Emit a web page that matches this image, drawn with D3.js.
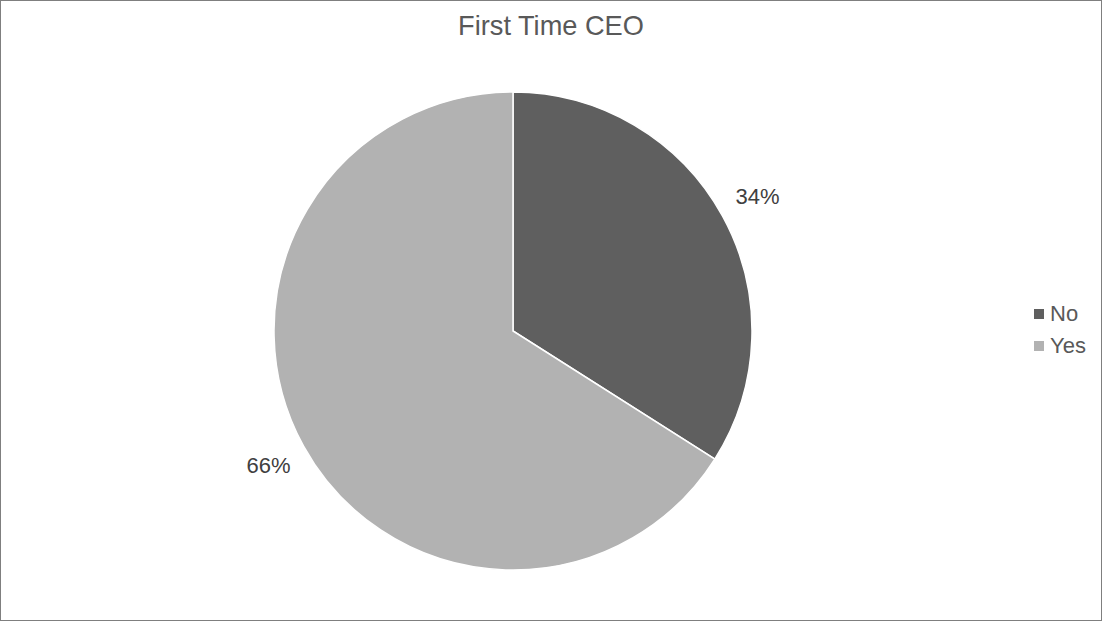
<!DOCTYPE html>
<meta charset="utf-8">
<title>First Time CEO</title>
<style>
    body { margin: 0; background: #fff; }
    text { font-family: "Liberation Sans", Arial, sans-serif; }
</style>

<body>
    <script src="https://d3js.org/d3.v7.min.js" charset="utf-8"></script>
    <script>
        // data
        var categories = ["No", "Yes"];
        var shares = [34, 66];
        var sliceColors = ["#5f5f5f", "#b2b2b2"];

        var width = 1102,
            height = 621;

        var svg = d3.select("body").append("svg")
            .attr("width", width)
            .attr("height", height);

        svg.append("rect")
            .attr("x", 0.5).attr("y", 0.5)
            .attr("width", width - 1).attr("height", height - 1)
            .style("fill", "#fff")
            .style("stroke", "#7f7f7f");

        svg.append("text")
            .attr("x", 551)
            .attr("y", 35)
            .attr("text-anchor", "middle")
            .style("font-size", "27.2px")
            .style("fill", "#595959")
            .text("First Time CEO");

        var cx = 513, cy = 331, r = 239;

        var color = d3.scaleOrdinal().domain(categories).range(sliceColors);

        var pie = d3.pie().sort(null).value(function (d) { return d.value; });
        var arcs = pie(categories.map(function (c, i) { return { key: c, value: shares[i] }; }));

        var arc = d3.arc().innerRadius(0).outerRadius(r);
        var labelArc = d3.arc().innerRadius(r + 40).outerRadius(r + 40);

        var g = svg.append("g")
            .attr("transform", "translate(" + cx + "," + cy + ")");

        g.selectAll("path")
            .data(arcs)
            .enter().append("path")
            .attr("d", arc)
            .style("fill", function (d) { return color(d.data.key); })
            .style("stroke", "#fff")
            .style("stroke-width", 1.5);

        var total = d3.sum(shares);
        g.selectAll("text.lbl")
            .data(arcs)
            .enter().append("text")
            .attr("class", "lbl")
            .attr("transform", function (d) { return "translate(" + labelArc.centroid(d) + ")"; })
            .attr("text-anchor", "middle")
            .attr("dy", "0.35em")
            .style("font-size", "22px")
            .style("fill", "#404040")
            .text(function (d) { return Math.round(d.data.value / total * 100) + "%"; });

        // legend
        var legend = svg.append("g")
            .attr("transform", "translate(1034,309)");

        var item = legend.selectAll("g")
            .data(categories)
            .enter().append("g")
            .attr("transform", function (d, i) { return "translate(0," + (i * 32) + ")"; });

        item.append("rect")
            .attr("width", 10)
            .attr("height", 10)
            .style("fill", function (d) { return color(d); });

        item.append("text")
            .attr("x", 16)
            .attr("y", 12)
            .style("font-size", "22px")
            .style("fill", "#595959")
            .text(function (d) { return d; });
    </script>
</body>
